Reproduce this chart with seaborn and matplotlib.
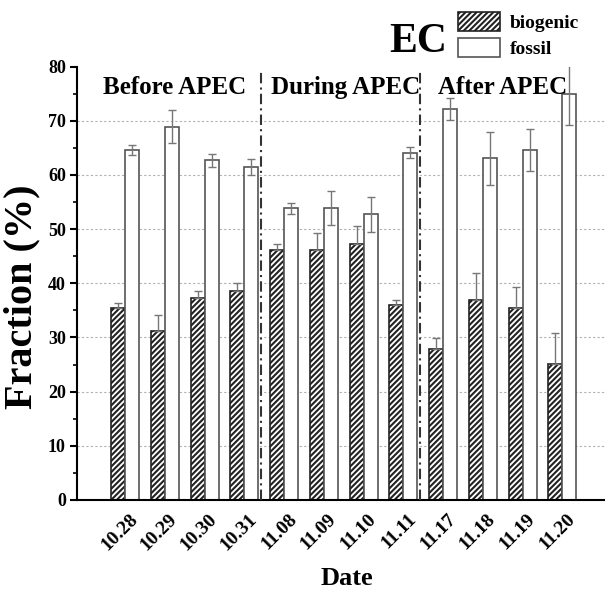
import numpy as np
import pandas as pd
import matplotlib
matplotlib.use("Agg")
import matplotlib.pyplot as plt
import matplotlib.transforms as mtrans
import seaborn as sns
from matplotlib.patches import Patch

# ---- data ----
dates = ["10.28", "10.29", "10.30", "10.31", "11.08", "11.09",
         "11.10", "11.11", "11.17", "11.18", "11.19", "11.20"]
biogenic = [35.4, 31.1, 37.3, 38.6, 46.2, 46.1, 47.3, 35.9, 27.9, 36.9, 35.4, 25.1]
fossil = [64.6, 68.9, 62.7, 61.4, 53.8, 53.9, 52.7, 64.1, 72.1, 63.1, 64.6, 74.9]
errors = [1.0, 3.1, 1.2, 1.5, 1.0, 3.2, 3.3, 1.0, 2.0, 4.9, 3.9, 5.7]
series = ["biogenic", "fossil"]
periods = ["Before APEC", "During APEC", "After APEC"]
yticks = [0, 10, 20, 30, 40, 50, 60, 70, 80]

df = pd.DataFrame({
    "Date": dates * 2,
    "Fraction": biogenic + fossil,
    "Source": [series[0]] * len(dates) + [series[1]] * len(dates),
})

sns.set_style("ticks")
plt.rcParams["font.family"] = ["Liberation Serif", "DejaVu Serif"]
plt.rcParams["font.weight"] = "bold"
plt.rcParams["axes.labelweight"] = "bold"
plt.rcParams["hatch.linewidth"] = 1.5
for k in ["text.color", "axes.labelcolor", "xtick.color", "ytick.color",
          "xtick.labelcolor", "ytick.labelcolor"]:
    plt.rcParams[k] = "black"

fig = plt.figure(figsize=(6.05, 5.91), dpi=100)
ax = fig.add_axes([77 / 605, 91 / 591, 528 / 605, 433.5 / 591])

sns.barplot(data=df, x="Date", y="Fraction", hue="Source", order=dates,
            hue_order=series, width=0.704, gap=0, ax=ax,
            palette=["white", "white"], edgecolor="#555555", linewidth=1.2,
            errorbar=None, legend=False)

# style bars & errorbars
bio_bars = ax.containers[0]
fos_bars = ax.containers[1]
for p in bio_bars:
    p.set_hatch("//////")
    p.set_edgecolor("#222222")
for p in fos_bars:
    p.set_edgecolor("#555555")

bx = [p.get_x() + p.get_width() / 2 for p in bio_bars]
fx = [p.get_x() + p.get_width() / 2 for p in fos_bars]
ax.errorbar(bx, biogenic, yerr=[np.zeros(len(errors)), errors], fmt="none",
            ecolor="#777777", elinewidth=1.0, capsize=2.6, capthick=1.0, zorder=3)
ax.errorbar(fx, fossil, yerr=[errors, errors], fmt="none",
            ecolor="#777777", elinewidth=1.0, capsize=2.6, capthick=1.0, zorder=3)

# axes
ax.set_xlim(-1.206, 12.07)
ax.set_ylim(0, 80)
ax.set_yticks(yticks)
ax.set_yticks(np.arange(5, 80, 10), minor=True)
for y in yticks[1:-1]:
    ax.axhline(y, color="#b0b0b0", lw=0.8, ls=(0, (2, 2)), zorder=0)

sns.despine(ax=ax, top=True, right=True)
ax.spines["left"].set_linewidth(1.5)
ax.spines["bottom"].set_linewidth(1.5)
ax.spines["left"].set_color("black")
ax.spines["bottom"].set_color("black")
ax.tick_params(axis="y", which="major", length=5, width=1.5, labelsize=13, pad=3, color="black")
ax.tick_params(axis="y", which="minor", length=3, width=1.2, color="black")
ax.tick_params(axis="x", length=0, labelsize=14, pad=4)
off = mtrans.ScaledTranslation(10 / 100, -11 / 100, fig.dpi_scale_trans)
for lab in ax.get_xticklabels():
    lab.set_rotation(45)
    lab.set_ha("right")
    lab.set_rotation_mode("anchor")
    lab.set_va("center")
    lab.set_transform(lab.get_transform() + off)

ax.set_xlabel("Date", fontsize=19, fontweight="bold")
ax.xaxis.set_label_coords(0.511, -0.155)
ax.set_ylabel("Fraction (%)", fontsize=29, fontweight="bold")
ax.yaxis.set_label_coords(-0.07, 0.47)

# period separators and labels
for xs in [3.43, 7.43]:
    ax.plot([xs, xs], [0, 79], color="#333333", lw=1.5, ls=(0, (5, 2, 1, 2)), zorder=4)
for xt, t in zip([-0.553, 3.66, 7.88], periods):
    ax.text(xt, 75.0, t, fontsize=18, fontweight="bold", ha="left", va="baseline")

# "EC" and legend
fig.text(389 / 605, (591 - 51.7) / 591, "EC", fontsize=30, fontweight="bold",
         ha="left", va="baseline")
handles = [Patch(facecolor="white", edgecolor="#222222", hatch="//////", linewidth=1.2),
           Patch(facecolor="white", edgecolor="#555555", linewidth=1.2)]
fig.legend(handles, series, loc="upper left", bbox_to_anchor=(458 / 605, 1 - 12 / 591),
           frameon=False, borderpad=0, borderaxespad=0, fontsize=14,
           handlelength=2.16, handleheight=1.15, labelspacing=0.28, handletextpad=0.5)

fig.savefig("out.png", dpi=100)
